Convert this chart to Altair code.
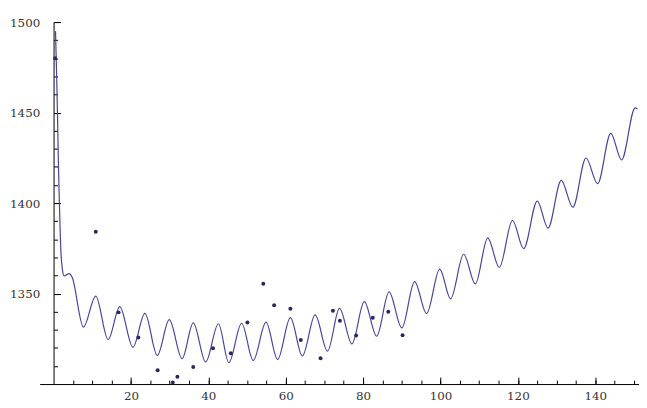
import altair as alt
import pandas as pd

# Fitted curve (start, shoulder, then alternating troughs/peaks)
curve_x = [0.5, 0.8, 1.0, 1.25, 1.5, 1.9, 2.3, 2.7, 4.1, 4.8,
           7.7, 10.9, 14.1, 17.1, 20.5, 23.6, 26.8, 29.9, 33.2, 36.1,
           39.3, 42.6, 45.3, 48.6, 51.6, 54.9, 57.9, 61.2, 64.3, 67.6,
           70.8, 73.9, 77.1, 80.3, 83.5, 86.7, 90.0, 93.3, 96.4, 99.8,
           102.6, 106.0, 109.0, 112.2, 115.2, 118.6, 121.5, 125.0, 127.8, 131.2,
           134.2, 137.6, 140.6, 144.0, 146.8, 150.3, 150.9]
curve_y = [1495, 1470, 1450, 1422, 1400, 1373, 1363, 1359.7, 1361.0, 1359.0,
           1331.5, 1348.6, 1324.6, 1342.8, 1320.3, 1339.0, 1315.8, 1335.6, 1314.0, 1333.8,
           1312.2, 1333.3, 1311.8, 1333.6, 1313.0, 1334.2, 1313.6, 1336.7, 1315.5, 1338.2,
           1318.2, 1341.8, 1322.2, 1345.5, 1326.4, 1350.9, 1331.0, 1356.6, 1339.0, 1363.5,
           1347.1, 1371.7, 1355.3, 1380.8, 1364.4, 1390.4, 1374.8, 1401.1, 1386.2, 1412.5,
           1397.7, 1424.9, 1410.7, 1438.5, 1423.8, 1452.6, 1452.0]

# Data points
pts_x = [0.4, 10.9, 16.8, 21.9, 26.9, 30.8, 32.0, 36.1, 41.2, 45.8, 50.1,
         54.2, 57.0, 61.2, 63.9, 69.0, 72.2, 74.0, 78.2, 82.5, 86.5, 90.2]
pts_y = [1480, 1384.2, 1339.6, 1325.7, 1307.6, 1300.9, 1304.0, 1309.4, 1319.8, 1317.0, 1334.0,
         1355.4, 1343.5, 1341.6, 1324.3, 1314.2, 1340.5, 1335.0, 1326.8, 1336.6, 1340.0, 1327.0]

x_minor_ticks = list(range(5, 151, 5))
y_minor_ticks = list(range(1310, 1501, 10))
x_major_ticks = [20, 40, 60, 80, 100, 120, 140]
y_major_ticks = [1350, 1400, 1450, 1500]
x_labels = [20, 40, 60, 80, 100, 120, 140]
y_labels = [1350, 1400, 1450, 1500]

curve_df = pd.DataFrame({"x": curve_x, "y": curve_y})
pts_df = pd.DataFrame({"x": pts_x, "y": pts_y})

W, H = 606, 366
XMIN, XMAX = -3.6, 151.3
YMIN, YMAX = 1300, 1500
x0 = W * (0 - XMIN) / (XMAX - XMIN)

xscale = alt.Scale(domain=[XMIN, XMAX], nice=False, zero=False)
yscale = alt.Scale(domain=[YMIN, YMAX], nice=False, zero=False)

LINE_COLOR = "#4444a0"
PT_COLOR = "#28285f"
FONT = "DejaVu Serif"


def tick_axis(orient, offset, values, size, domain):
    return alt.Axis(orient=orient, offset=offset, values=values, labels=False,
                    grid=False, domain=domain, domainColor="black", tickColor="black",
                    domainWidth=1, tickWidth=1, tickSize=size)


# minor ticks + axis lines (ticks pointing into the plot)
line = alt.Chart(curve_df).mark_line(
    interpolate="monotone", color=LINE_COLOR, strokeWidth=1.2
).encode(
    x=alt.X("x:Q", scale=xscale, title=None,
            axis=tick_axis("top", -H, x_minor_ticks, 4, True)),
    y=alt.Y("y:Q", scale=yscale, title=None,
            axis=tick_axis("right", -(W - x0), y_minor_ticks, 4, True)),
)

# major ticks (longer), invisible carrier marks
major = alt.Chart(pts_df).mark_point(opacity=0).encode(
    x=alt.X("x:Q", scale=xscale, title=None,
            axis=tick_axis("top", -H, x_major_ticks, 7, False)),
    y=alt.Y("y:Q", scale=yscale, title=None,
            axis=tick_axis("right", -(W - x0), y_major_ticks, 7, False)),
)

# data points + tick labels
pts = alt.Chart(pts_df).mark_circle(size=16, color=PT_COLOR, opacity=1).encode(
    x=alt.X("x:Q", scale=xscale, title=None,
            axis=alt.Axis(orient="bottom", values=x_labels, ticks=False, tickSize=0,
                          domain=False, grid=False, labelFont=FONT, labelFontSize=12,
                          labelColor="#333333", labelPadding=7, format="d")),
    y=alt.Y("y:Q", scale=yscale, title=None,
            axis=alt.Axis(orient="left", offset=-x0, values=y_labels, ticks=False, tickSize=0,
                          domain=False, grid=False, labelFont=FONT, labelFontSize=12,
                          labelColor="#333333", labelPadding=14, format="d")),
)

chart = alt.layer(line, major, pts).resolve_axis(
    x="independent", y="independent"
).properties(
    width=W, height=H,
    padding={"left": 32, "top": 12, "right": 0, "bottom": 22},
    autosize="none",
    background="white",
).configure_view(stroke=None)

chart.save("out.html", embed_options={"renderer": "svg", "actions": False})
